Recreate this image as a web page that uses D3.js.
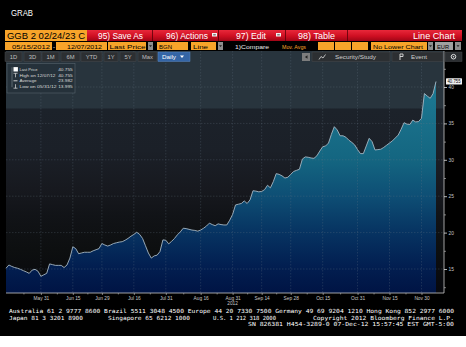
<!DOCTYPE html>
<html><head><meta charset="utf-8">
<script src="https://cdn.jsdelivr.net/npm/d3@7"></script>
<style>html,body{margin:0;padding:0;background:#000;overflow:hidden}svg{display:block}</style>
</head><body><svg id="c" width="466" height="347"></svg>
<script>
// ---------- DATA ----------
const dates = [
"2012-05-15","2012-05-16","2012-05-17","2012-05-18","2012-05-21","2012-05-22","2012-05-23","2012-05-24","2012-05-25","2012-05-28","2012-05-29","2012-05-30","2012-05-31",
"2012-06-01","2012-06-04","2012-06-05","2012-06-06","2012-06-07","2012-06-08","2012-06-11","2012-06-12","2012-06-13","2012-06-14","2012-06-15","2012-06-18","2012-06-19","2012-06-20","2012-06-21","2012-06-22","2012-06-25","2012-06-26","2012-06-27","2012-06-28","2012-06-29",
"2012-07-02","2012-07-03","2012-07-04","2012-07-05","2012-07-06","2012-07-09","2012-07-10","2012-07-11","2012-07-12","2012-07-13","2012-07-16","2012-07-17","2012-07-18","2012-07-19","2012-07-20","2012-07-23","2012-07-24","2012-07-25","2012-07-26","2012-07-27","2012-07-30","2012-07-31",
"2012-08-01","2012-08-02","2012-08-03","2012-08-06","2012-08-07","2012-08-08","2012-08-09","2012-08-10","2012-08-13","2012-08-14","2012-08-15","2012-08-16","2012-08-17","2012-08-20","2012-08-21","2012-08-22","2012-08-23","2012-08-24","2012-08-27","2012-08-28","2012-08-29","2012-08-30","2012-08-31",
"2012-09-03","2012-09-04","2012-09-05","2012-09-06","2012-09-07","2012-09-10","2012-09-11","2012-09-12","2012-09-13","2012-09-14","2012-09-17","2012-09-18","2012-09-19","2012-09-20","2012-09-21","2012-09-24","2012-09-25","2012-09-26","2012-09-27","2012-09-28",
"2012-10-01","2012-10-02","2012-10-03","2012-10-04","2012-10-05","2012-10-08","2012-10-09","2012-10-10","2012-10-11","2012-10-12","2012-10-15","2012-10-16","2012-10-17","2012-10-18","2012-10-19","2012-10-22","2012-10-23","2012-10-24","2012-10-25","2012-10-26","2012-10-29","2012-10-30","2012-10-31",
"2012-11-01","2012-11-02","2012-11-05","2012-11-06","2012-11-07","2012-11-08","2012-11-09","2012-11-12","2012-11-13","2012-11-14","2012-11-15","2012-11-16","2012-11-19","2012-11-20","2012-11-21","2012-11-22","2012-11-23","2012-11-26","2012-11-27","2012-11-28","2012-11-29","2012-11-30",
"2012-12-03","2012-12-04","2012-12-05","2012-12-06","2012-12-07"];
const prices = [
15.1,15.55,15.35,15.2,15.1,14.95,14.77,14.6,14.4,14.85,14.95,14.7,14.0,
14.2,14.4,15.7,15.6,15.5,15.5,15.5,15.2,15.55,16.5,18.05,17.8,17.1,17.2,17.3,17.3,17.3,17.5,17.65,17.8,18.5,
18.3,18.15,18.3,18.5,18.6,18.7,18.75,18.95,19.2,19.5,19.75,20.05,19.75,19.2,18.2,17.2,16.5,16.8,16.9,17.4,19.0,18.95,
18.45,18.8,19.2,19.7,20.1,20.6,20.55,20.45,20.35,20.3,20.2,20.35,20.6,20.9,21.3,21.1,20.95,21.2,21.1,21.05,21.05,21.7,22.5,
23.8,23.9,24.0,24.35,24.0,24.5,25.75,25.7,25.6,25.65,25.9,26.5,26.15,27.0,28.1,28.0,27.8,27.5,27.6,28.0,
28.4,28.55,28.7,30.1,30.4,30.35,30.25,30.2,30.55,31.2,31.8,31.9,32.3,33.5,34.55,34.1,33.3,33.3,33.1,32.7,32.4,32.05,31.4,
30.85,30.85,31.9,32.95,32.5,31.35,31.4,31.45,31.7,32.0,32.3,32.6,33.0,33.4,34.2,35.1,34.9,34.85,35.45,35.2,35.25,35.7,
39.1,38.75,38.45,39.1,40.755];
const yTicks = [15,20,25,30,35,40];
const yMinorTicks = [12.5,17.5,22.5,27.5,32.5,37.5,42.5];
const xTickDates = ["2012-05-31","2012-06-15","2012-06-29","2012-07-16","2012-07-31","2012-08-16","2012-08-31","2012-09-14","2012-09-28","2012-10-15","2012-10-31","2012-11-15","2012-11-30"];
const xTickLabels = ["May 31","Jun 15","Jun 29","Jul 16","Jul 31","Aug 16","Aug 31","Sep 14","Sep 28","Oct 15","Oct 31","Nov 15","Nov 30"];
const yearLabel = "2012";
const legendLabels = ["Last Price","High on 12/07/12","Average","Low on 05/31/12"];
const legendValues = ["40.755","40.755","23.982","13.995"];
const lastLabel = "40.755";

// ---------- SETUP ----------
const svg = d3.select("#c");
const SANS = "'Liberation Sans', Arial, sans-serif";
const MONO = "'DejaVu Sans Mono', monospace";
svg.append("rect").attr("width",466).attr("height",347).attr("fill","#000");
svg.append("rect").attr("y",336).attr("width",466).attr("height",11).attr("fill","#fff");

function T(g, s, x, y, o={}) {
  const t = g.append("text").attr("x",x).attr("y",y).text(s)
    .attr("font-family", o.font || SANS).attr("font-size", o.size || 6)
    .attr("fill", o.fill || "#fff").attr("text-anchor", o.anchor || "start");
  if (o.len) t.attr("textLength", o.len).attr("lengthAdjust","spacingAndGlyphs");
  if (o.weight) t.attr("font-weight", o.weight);
  return t;
}

const defs = svg.append("defs");
const P = {left:6, right:436, axisX:444, top:51, bottom:293};

const bg = defs.append("linearGradient").attr("id","bg").attr("gradientUnits","userSpaceOnUse")
  .attr("x1",0).attr("x2",0).attr("y1",P.top).attr("y2",P.bottom);
[[0,"#28343d"],[0.235,"#28343d"],[0.24,"#1c222a"],[0.41,"#1b2028"],[0.57,"#17191f"],[0.68,"#111317"],[0.82,"#0d0f10"],[1,"#07080d"]]
  .forEach(s=>bg.append("stop").attr("offset",s[0]).attr("stop-color",s[1]));
const fg = defs.append("linearGradient").attr("id","fg").attr("gradientUnits","userSpaceOnUse")
  .attr("x1",0).attr("x2",0).attr("y1",80).attr("y2",P.bottom);
[[0,"#1d7c96"],[0.2,"#196f89"],[0.37,"#146681"],[0.54,"#0e4f75"],[0.71,"#073462"],[0.88,"#021e50"],[1,"#001444"]]
  .forEach(s=>fg.append("stop").attr("offset",s[0]).attr("stop-color",s[1]));

// ---------- SCALES ----------
const parse = d3.timeParse("%Y-%m-%d");
const D = dates.map(parse);
const t0 = D[0];
// trading-day index (weekdays elapsed since the first date)
const tIdx = d => d3.timeDay.range(t0, d).filter(z => z.getDay() % 6 !== 0).length;
const x = d3.scaleLinear().domain([0, tIdx(D[D.length-1])]).range([P.left, P.right]);
const y = d3.scaleLinear().domain([15,40]).range([269,87]);
const data = D.map((d,i)=>({i:tIdx(d), v:prices[i]}));
const xt = xTickDates.map(s=>tIdx(parse(s)));

// ---------- CHART ----------
svg.append("rect").attr("x",P.left).attr("y",P.top).attr("width",P.axisX-P.left).attr("height",P.bottom-P.top).attr("fill","url(#bg)");

const area = d3.area().x(d=>x(d.i)).y0(P.bottom).y1(d=>y(d.v));
svg.append("path").datum(data).attr("d",area).attr("fill","url(#fg)");

const grid = svg.append("g").attr("stroke","#6a7886").attr("stroke-opacity",0.45).attr("stroke-width",0.6).attr("stroke-dasharray","1.5,1.5");
grid.selectAll("line.h").data(yTicks).join("line").attr("x1",P.left).attr("x2",P.axisX).attr("y1",d=>y(d)).attr("y2",d=>y(d));
grid.selectAll("line.v").data(xt).join("line").attr("y1",P.top).attr("y2",P.bottom).attr("x1",d=>x(d)).attr("x2",d=>x(d));

const line = d3.line().x(d=>x(d.i)).y(d=>y(d.v));
svg.append("path").datum(data).attr("d",line).attr("fill","none").attr("stroke","#a6b7c3").attr("stroke-width",0.9);

// right axis
svg.append("line").attr("x1",P.axisX).attr("x2",P.axisX).attr("y1",P.top).attr("y2",P.bottom).attr("stroke","#c8c8c8").attr("stroke-width",0.8);
const ra = svg.append("g").attr("transform",`translate(${P.axisX},0)`)
  .call(d3.axisRight(y).tickValues(yTicks).tickSize(3).tickPadding(1.5).tickFormat(d3.format("d")));
ra.select(".domain").remove();
ra.selectAll("line").attr("stroke","#e0e0e0").attr("stroke-width",0.8);
ra.selectAll("text").attr("fill","#c8c8c8").attr("font-size",4.8).attr("font-family",SANS);
const rm = svg.append("g").attr("transform",`translate(${P.axisX},0)`)
  .call(d3.axisRight(y).tickValues(yMinorTicks).tickSize(2).tickFormat(""));
rm.select(".domain").remove();
rm.selectAll("line").attr("stroke","#c8c8c8").attr("stroke-width",0.6);

// bottom axis
svg.append("line").attr("x1",P.left).attr("x2",P.axisX).attr("y1",P.bottom).attr("y2",P.bottom).attr("stroke","#c8c8c8").attr("stroke-width",0.8);
const ba = svg.append("g").attr("transform",`translate(0,${P.bottom})`)
  .call(d3.axisBottom(x).tickValues(xt).tickSize(2).tickPadding(1.5).tickFormat((d,i)=>xTickLabels[i]));
ba.select(".domain").remove();
ba.selectAll("line").attr("stroke","#c8c8c8").attr("stroke-width",0.6);
ba.selectAll("text").attr("fill","#c8c8c8").attr("font-size",4.8).attr("font-family",SANS);
const mids = [0].concat(xt).map((d,i,a)=> i<a.length-1 ? (d+a[i+1])/2 : null).filter(d=>d!==null);
const bm = svg.append("g").attr("transform",`translate(0,${P.bottom})`)
  .call(d3.axisBottom(x).tickValues(mids).tickSize(1.5).tickFormat(""));
bm.select(".domain").remove();
bm.selectAll("line").attr("stroke","#c8c8c8").attr("stroke-width",0.5);
T(svg, yearLabel, x(xt[6]), 304.5, {size:4.8, fill:"#c8c8c8", anchor:"middle"});

// last value label
const ly = y(prices[prices.length-1]);
svg.append("rect").attr("x",446).attr("y",ly-3.2).attr("width",16).attr("height",6.2).attr("fill","#f0f0f0").attr("rx",0.6);
T(svg, lastLabel, 454, ly+1.7, {size:4.6, fill:"#000", anchor:"middle", len:13});

// legend
const lg = svg.append("g");
lg.append("rect").attr("x",7).attr("y",63.5).attr("width",68).attr("height",29.5).attr("fill","#25313a").attr("fill-opacity",0.92).attr("stroke","#56636d").attr("stroke-width",0.6);
const rowsY = [69.3,75.3,80.8,86.2];
lg.append("path").attr("d",`M12,${rowsY[0]-2} v${rowsY[3]-rowsY[0]+3}`).attr("stroke","#9aa4ab").attr("stroke-width",0.5).attr("fill","none");
lg.append("rect").attr("x",13.5).attr("y",rowsY[0]-2.2).attr("width",4.4).attr("height",4.4).attr("fill","#fff");
lg.append("path").attr("d",`M13.5,${rowsY[1]-2} h4 M15.5,${rowsY[1]-2} v4`).attr("stroke","#e0e0e0").attr("stroke-width",0.7);
lg.append("path").attr("d",`M13.5,${rowsY[2]} h4`).attr("stroke","#e0e0e0").attr("stroke-width",0.9);
lg.append("path").attr("d",`M13.5,${rowsY[3]+2} h4 M15.5,${rowsY[3]+2} v-4`).attr("stroke","#e0e0e0").attr("stroke-width",0.7);
const labLen = [18,36,17,37];
legendLabels.forEach((s,i)=>{
  T(lg, s, 19.5, rowsY[i]+1.6, {size:4.4, fill:"#dcdcdc", len:labLen[i]});
  T(lg, legendValues[i], 72.7, rowsY[i]+1.6, {size:4.4, fill:"#dcdcdc", anchor:"end", len:14.5});
});

// ---------- HEADER ----------
T(svg, "GRAB", 11, 15.5, {size:9.5, fill:"#fff", len:22});
const ORANGE = "#f7a42a";
const redG = defs.append("linearGradient").attr("id","red").attr("x1",0).attr("x2",0).attr("y1",0).attr("y2",1);
[[0,"#e8283a"],[0.55,"#cf0f22"],[1,"#a00616"]].forEach(s=>redG.append("stop").attr("offset",s[0]).attr("stop-color",s[1]));
svg.append("rect").attr("x",5).attr("y",30).attr("width",82).attr("height",11).attr("fill",ORANGE);
T(svg, "GGB 2 02/24/23 C", 7, 38.8, {size:8.5, fill:"#000", len:78});
svg.append("rect").attr("x",87).attr("y",30).attr("width",375).attr("height",11).attr("fill","url(#red)");
[152.5,218.5,285.5,347.5].forEach(sx=>svg.append("line").attr("x1",sx).attr("x2",sx).attr("y1",30).attr("y2",41).attr("stroke","#5a0008").attr("stroke-width",0.8));
T(svg, "95) Save As", 98, 38.8, {size:8.5, len:45});
T(svg, "96) Actions", 166, 38.8, {size:8.5, len:42});
T(svg, "97) Edit", 236, 38.8, {size:8.5, len:30});
T(svg, "98) Table", 298, 38.8, {size:8.5, len:37});
T(svg, "Line Chart", 455, 38.8, {size:8.5, anchor:"end", len:42});
[[212,33],[276,33]].forEach(p=>{
  svg.append("rect").attr("x",p[0]).attr("y",p[1]).attr("width",5).attr("height",3.5).attr("fill","#f2f2f2");
  svg.append("rect").attr("x",p[0]+1.2).attr("y",p[1]+1.4).attr("width",2.6).attr("height",0.9).attr("fill","#333");
});
function obox(x0,x1,s,tx,anchor,len){
  svg.append("rect").attr("x",x0).attr("y",42).attr("width",x1-x0).attr("height",8).attr("fill",ORANGE);
  if(s) T(svg, s, tx, 48.6, {size:6.2, fill:"#000", anchor:anchor||"start", len:len});
}
function gdrop(x0,x1){
  svg.append("rect").attr("x",x0).attr("y",42).attr("width",x1-x0).attr("height",8).attr("fill","#8e8e8e");
  svg.append("path").attr("d",`M${(x0+x1)/2-1.5},45.3 h3 l-1.5,1.8 z`).attr("fill","#222");
}
obox(5,52,"05/15/2012",12,"start",38);
T(svg, "-", 54, 48.6, {size:6.2, fill:"#fff", anchor:"middle"});
obox(56,107,"12/07/2012",67,"start",35);
obox(108,146,"Last Price",109.5,"start",36);
gdrop(148,153);
obox(157,188,"BGN",159,"start",13);
obox(191,216,"Line",193,"start",15);
gdrop(218,223);
T(svg, "1)Compare", 235, 48.6, {size:6.2, fill:"#e8e8e8", len:34});
T(svg, "Mov. Avgs", 282, 48.6, {size:6.2, fill:ORANGE, len:24});
obox(318,334); obox(335,351); obox(352,368);
obox(371,427,"No Lower Chart",373,"start",50);
gdrop(428,433);
svg.append("rect").attr("x",435).attr("y",42).attr("width",18).attr("height",8).attr("fill","#a0a0a0");
T(svg, "EUR", 437, 48.6, {size:6.2, fill:"#000", len:12});
gdrop(455,461);
const btns = [["1D",5,22],["3D",24,41],["1M",42,59],["6M",61,80],["YTD",81,102],["1Y",104,118],["5Y",120,136],["Max",138,157]];
btns.forEach(b=>{
  svg.append("rect").attr("x",b[1]).attr("y",52).attr("width",b[2]-b[1]).attr("height",9.5).attr("fill","#2c2f32").attr("stroke","#45494d").attr("stroke-width",0.5);
  T(svg, b[0], (b[1]+b[2])/2, 59, {size:5.8, fill:"#bfbfbf", anchor:"middle"});
});
svg.append("rect").attr("x",158).attr("y",52).attr("width",32).attr("height",9.5).attr("fill","#3465a6").attr("stroke","#5a86c0").attr("stroke-width",0.5);
T(svg, "Daily", 162, 59, {size:5.8, fill:"#fff", len:14});
svg.append("path").attr("d","M180,55.5 h4 l-2,2.5 z").attr("fill","#fff");
svg.append("rect").attr("x",302).attr("y",53).attr("width",8).attr("height",8).attr("fill","#7d7d7d");
svg.append("path").attr("d","M307.5,55.2 v3.6 l-2.6,-1.8 z").attr("fill","#222");
[[312,390],[392,443],[445,462]].forEach(b=>{
  svg.append("rect").attr("x",b[0]).attr("y",52).attr("width",b[1]-b[0]).attr("height",9.5).attr("fill","#2c2f32").attr("stroke","#45494d").attr("stroke-width",0.5);
});
svg.append("path").attr("d","M319,59.5 l2,-3 l2,1.5 l2.5,-3.5").attr("stroke","#ddd").attr("stroke-width",0.8).attr("fill","none");
T(svg, "Security/Study", 335, 59, {size:5.8, fill:"#cfcfcf", len:41});
svg.append("path").attr("d","M400,60 v-6 M400,54 h3 v2.5 h-3").attr("stroke","#ddd").attr("stroke-width",0.9).attr("fill","none");
T(svg, "Event", 411, 59, {size:5.8, fill:"#cfcfcf", len:16});
svg.append("circle").attr("cx",453.5).attr("cy",56.7).attr("r",2.3).attr("fill","none").attr("stroke","#ddd").attr("stroke-width",1);
svg.append("circle").attr("cx",453.5).attr("cy",56.7).attr("r",0.8).attr("fill","#ddd");

// ---------- FOOTER ----------
const fy = [313,319.5,326];
const FS = 5.6;
T(svg, "Australia 61 2 9777 8600 Brazil 5511 3048 4500 Europe 44 20 7330 7500 Germany 49 69 9204 1210 Hong Kong 852 2977 6000", 9, fy[0], {font:MONO, size:FS, len:445});
T(svg, "Japan 81 3 3201 8900", 9, fy[1], {font:MONO, size:FS, len:74});
T(svg, "Singapore 65 6212 1000", 108, fy[1], {font:MONO, size:FS, len:82});
T(svg, "U.S. 1 212 318 2000", 213, fy[1], {font:MONO, size:FS, len:63});
T(svg, "Copyright 2012 Bloomberg Finance L.P.", 313, fy[1], {font:MONO, size:FS, len:141});
T(svg, "SN 826381 H454-3289-0 07-Dec-12 15:57:45 EST  GMT-5:00", 248, fy[2], {font:MONO, size:FS, len:206});
</script></body></html>
